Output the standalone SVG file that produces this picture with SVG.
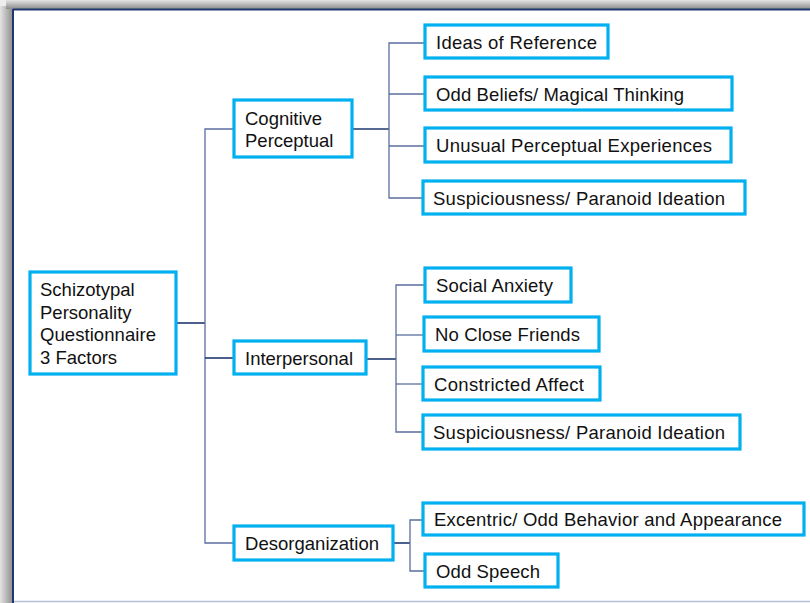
<svg xmlns="http://www.w3.org/2000/svg" width="810" height="603" viewBox="0 0 810 603">
<defs>
<linearGradient id="shL" x1="0" y1="0" x2="1" y2="0">
<stop offset="0" stop-color="#e4e4e4"/><stop offset="1" stop-color="#8c8c8c"/>
</linearGradient>
<linearGradient id="shT" x1="0" y1="0" x2="0" y2="1">
<stop offset="0" stop-color="#e4e4e4"/><stop offset="1" stop-color="#8c8c8c"/>
</linearGradient>
<style>
.box{fill:#fff;stroke:#00b0f0;stroke-width:3.2}
.t{font-family:"Liberation Sans",Arial,sans-serif;font-size:18.5px;fill:#111}
.c{fill:none;stroke:#5b6e9e;stroke-width:1.3}
.m{fill:none;stroke:#1f3870;stroke-width:1.6}
</style>
</defs>
<rect x="0" y="0" width="810" height="603" fill="#fff"/>
<rect x="0" y="6" width="13" height="597" fill="url(#shL)"/>
<rect x="6" y="0" width="804" height="9" fill="url(#shT)"/>
<rect x="0" y="0" width="6" height="6" fill="#eee"/>
<rect x="13" y="9" width="800" height="592" fill="#fff"/>
<line x1="13" y1="9.5" x2="810" y2="9.5" stroke="#1f3870" stroke-width="2"/>
<line x1="13" y1="9" x2="13" y2="603" stroke="#1f3870" stroke-width="2"/>
<line x1="14" y1="601.5" x2="810" y2="601.5" stroke="#b4c0d8" stroke-width="1.5"/>

<g id="connectors">
<line class="m" x1="176" y1="323" x2="205" y2="323"/>
<path class="c" d="M234 129 H205 V543 H234"/>
<line class="m" x1="205" y1="358" x2="234" y2="358"/>
<line class="m" x1="352" y1="129" x2="389" y2="129"/>
<path class="c" d="M425 43 H389 V198 H423"/>
<line class="c" x1="389" y1="94" x2="425" y2="94"/>
<line class="c" x1="389" y1="146" x2="425" y2="146"/>
<line class="m" x1="366" y1="359" x2="396" y2="359"/>
<path class="c" d="M425 285 H396 V432 H423"/>
<line class="c" x1="396" y1="335" x2="424" y2="335"/>
<line class="c" x1="396" y1="384" x2="423" y2="384"/>
<line class="m" x1="393" y1="543" x2="410" y2="543"/>
<path class="c" d="M423 520 H410 V571 H425"/>
</g>

<g id="root"><rect class="box" x="30" y="272" width="146" height="102"/>
<text class="t" x="40" y="296">Schizotypal</text>
<text class="t" x="40" y="318.7">Personality</text>
<text class="t" x="40" y="341.3" textLength="116" lengthAdjust="spacing">Questionnaire</text>
<text class="t" x="40" y="364">3 Factors</text></g>

<g id="cognitive"><rect class="box" x="234" y="100" width="118" height="57"/>
<text class="t" x="245" y="125">Cognitive</text>
<text class="t" x="245" y="147">Perceptual</text></g>

<g id="interpersonal"><rect class="box" x="234" y="341" width="132" height="33"/>
<text class="t" x="245" y="364.5" textLength="108" lengthAdjust="spacing">Interpersonal</text></g>

<g id="desorganization"><rect class="box" x="234" y="526" width="159" height="34"/>
<text class="t" x="245" y="550" textLength="134" lengthAdjust="spacing">Desorganization</text></g>

<g id="ideas"><rect class="box" x="425" y="25" width="183" height="33"/>
<text class="t" x="436" y="48.5" textLength="161" lengthAdjust="spacing">Ideas of Reference</text></g>
<g id="oddbeliefs"><rect class="box" x="425" y="77" width="307" height="33"/>
<text class="t" x="436" y="100.5" textLength="248" lengthAdjust="spacing">Odd Beliefs/ Magical Thinking</text></g>
<g id="unusual"><rect class="box" x="425" y="128" width="306" height="34"/>
<text class="t" x="436" y="152" textLength="276" lengthAdjust="spacing">Unusual Perceptual Experiences</text></g>
<g id="susp1"><rect class="box" x="423" y="181" width="322" height="33"/>
<text class="t" x="433" y="204.5" textLength="292" lengthAdjust="spacing">Suspiciousness/ Paranoid Ideation</text></g>

<g id="social"><rect class="box" x="425" y="268" width="146" height="34"/>
<text class="t" x="436" y="291.5" textLength="117" lengthAdjust="spacing">Social Anxiety</text></g>
<g id="noclose"><rect class="box" x="424" y="317" width="175" height="34"/>
<text class="t" x="435" y="341" textLength="145" lengthAdjust="spacing">No Close Friends</text></g>
<g id="constricted"><rect class="box" x="423" y="367" width="177" height="33"/>
<text class="t" x="434" y="390.5" textLength="150" lengthAdjust="spacing">Constricted Affect</text></g>
<g id="susp2"><rect class="box" x="423" y="415" width="317" height="34"/>
<text class="t" x="433" y="439" textLength="292" lengthAdjust="spacing">Suspiciousness/ Paranoid Ideation</text></g>

<g id="excentric"><rect class="box" x="423" y="503" width="381" height="32"/>
<text class="t" x="434" y="526" textLength="348" lengthAdjust="spacing">Excentric/ Odd Behavior and Appearance</text></g>
<g id="oddspeech"><rect class="box" x="425" y="554" width="133" height="33"/>
<text class="t" x="436" y="577.5" textLength="104" lengthAdjust="spacing">Odd Speech</text></g>
</svg>
